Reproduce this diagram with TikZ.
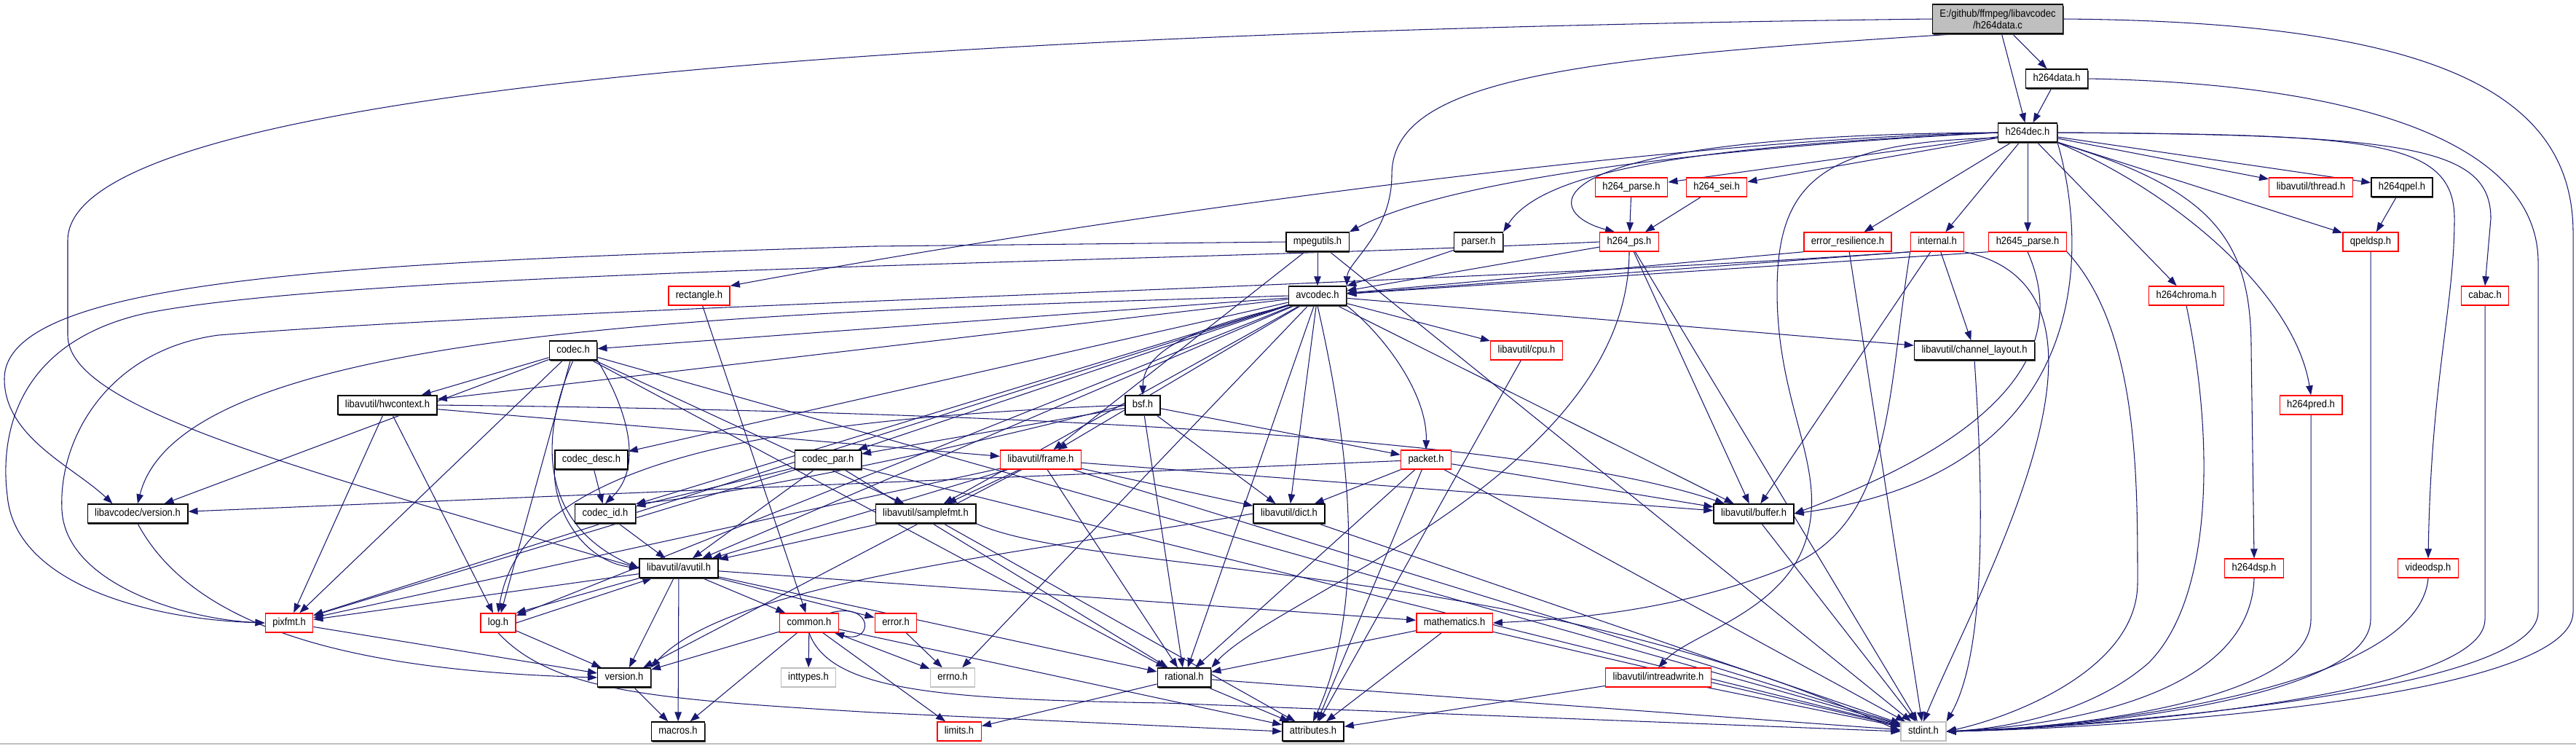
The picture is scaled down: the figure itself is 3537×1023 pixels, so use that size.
\documentclass[tikz,border=0pt]{standalone}
\usepackage{fontspec}
\setmainfont{Liberation Sans}[FakeStretch=0.9]
\usepackage{tikz}
\usetikzlibrary{arrows.meta,backgrounds,shadows,calc}
\definecolor{midnight}{HTML}{191970}
\definecolor{truncred}{HTML}{FF0000}
\definecolor{sysgray}{HTML}{BFBFBF}

\begin{document}
\begin{tikzpicture}[x=0.01cm, y=-0.01cm,
  file/.style={rectangle, fill=white, line width=0.4pt, inner xsep=0.1cm, inner ysep=0pt,
    minimum height=0.26cm, text height=2.9pt, text depth=0.9pt, font=\fontsize{4.1}{4.6}\selectfont},
  done/.style={file, draw=black, general shadow={fill=black!70, shadow xshift=0.35pt, shadow yshift=-0.6pt}},
  cut/.style={file, draw=truncred},
  sysh/.style={file, draw=sysgray},
  dep/.style={draw=midnight, line width=0.3pt, -{Triangle[length=0.13cm, width=0.095cm]}}]
  \useasboundingbox (0,0) rectangle (3537,1023);
  \draw[sysgray, line width=0.6pt] (0,1021) -- (3537,1021);

  \node[done, fill=sysgray, align=center, text height=, text depth=, minimum height=0.4cm] (root) at (2743,26) {E:/github/ffmpeg/libavcodec\\/h264data.c};
  \node[done] (hdata) at (2824,108) {h264data.h};
  \node[done] (hdec) at (2784,182) {h264dec.h};
  \node[cut] (hparse) at (2240,257) {h264\_parse.h};
  \node[cut] (hsei) at (2357,257) {h264\_sei.h};
  \node[cut] (thread) at (3173,257) {libavutil/thread.h};
  \node[done] (hqpel) at (3298,257) {h264qpel.h};
  \node[done] (mpegutils) at (1809,332) {mpegutils.h};
  \node[done] (parser) at (2030,332) {parser.h};
  \node[cut] (hps) at (2237,332) {h264\_ps.h};
  \node[cut] (erres) at (2537,332) {error\_resilience.h};
  \node[cut] (internal) at (2660,332) {internal.h};
  \node[cut] (hparsex) at (2784,332) {h2645\_parse.h};
  \node[cut] (qpeldsp) at (3255,332) {qpeldsp.h};
  \node[cut] (rect) at (960,406) {rectangle.h};
  \node[done] (avcodec) at (1809,406) {avcodec.h};
  \node[cut] (hchroma) at (3002,406) {h264chroma.h};
  \node[cut] (cabac) at (3412,406) {cabac.h};
  \node[done] (codec) at (787,481) {codec.h};
  \node[cut] (cpu) at (2096,481) {libavutil/cpu.h};
  \node[done] (chlayout) at (2711,481) {libavutil/channel\_layout.h};
  \node[done] (hwctx) at (532,556) {libavutil/hwcontext.h};
  \node[done] (bsf) at (1569,556) {bsf.h};
  \node[cut] (hpred) at (3173,556) {h264pred.h};
  \node[done] (codecdesc) at (812,631) {codec\_desc.h};
  \node[done] (codecpar) at (1137,631) {codec\_par.h};
  \node[cut] (frame) at (1429,631) {libavutil/frame.h};
  \node[cut] (packet) at (1958,631) {packet.h};
  \node[done] (lavcver) at (189,705) {libavcodec/version.h};
  \node[done] (codecid) at (831,705) {codec\_id.h};
  \node[done] (samplefmt) at (1271,705) {libavutil/samplefmt.h};
  \node[done] (dict) at (1770,705) {libavutil/dict.h};
  \node[done] (buffer) at (2408,705) {libavutil/buffer.h};
  \node[done] (avutil) at (932,780) {libavutil/avutil.h};
  \node[cut] (hdsp) at (3095,780) {h264dsp.h};
  \node[cut] (videodsp) at (3334,780) {videodsp.h};
  \node[cut] (pixfmt) at (397,855) {pixfmt.h};
  \node[cut] (log) at (684,855) {log.h};
  \node[cut] (common) at (1111,855) {common.h};
  \node[cut] (error) at (1230,855) {error.h};
  \node[cut] (mathematics) at (1997,855) {mathematics.h};
  \node[done] (version) at (857,930) {version.h};
  \node[sysh] (inttypes) at (1110,930) {inttypes.h};
  \node[sysh] (errno) at (1308,930) {errno.h};
  \node[done] (rational) at (1626,930) {rational.h};
  \node[cut] (intrw) at (2277,930) {libavutil/intreadwrite.h};
  \node[done] (macros) at (931,1004) {macros.h};
  \node[cut] (limits) at (1317,1004) {limits.h};
  \node[done] (attributes) at (1803,1004) {attributes.h};
  \node[sysh] (stdint) at (2641,1004) {stdint.h};

  \begin{scope}[on background layer]
  \draw[dep] (root) -- (hdata);
  \draw[dep] (root) -- (hdec);
  \draw[dep] (root.200) .. controls (2150,80) and (1911,110) .. (1911,240) .. controls (1911,320) and (1850,360) .. (avcodec.north east);
  \draw[dep] (root.west) .. controls (1500,40) and (93,100) .. (93,330) -- (93,460) .. controls (93,560) and (400,640) .. (avutil.west);
  \draw[dep] (root.east) .. controls (3350,30) and (3533,130) .. (3533,320) -- (3533,840) .. controls (3533,960) and (2900,1000) .. (stdint.east);
  \draw[dep] (hdata) -- (hdec);
  \draw[dep] (hdata.east) .. controls (3250,115) and (3485,200) .. (3485,360) -- (3485,840) .. controls (3485,950) and (2900,995) .. (stdint.east);

  \draw[dep] (hdec) -- (hparse);
  \draw[dep] (hdec) -- (hsei);
  \draw[dep] (hdec.west) .. controls (2100,185) and (2110,290) .. ($(hps.north)+(-20,0)$);
  \draw[dep] (hdec.west) .. controls (2350,200) and (2120,230) .. (parser.north east);
  \draw[dep] (hdec.west) .. controls (2400,200) and (2000,240) .. (mpegutils.north east);
  \draw[dep] (hdec.west) .. controls (2300,190) and (1500,300) .. (rect.north east);
  \draw[dep] (hdec) -- (erres);
  \draw[dep] (hdec) -- (internal);
  \draw[dep] (hdec) -- (hparsex);
  \draw[dep] (hdec) -- (thread);
  \draw[dep] (hdec) -- (hqpel);
  \draw[dep] (hdec) -- (qpeldsp);
  \draw[dep] (hdec) -- (hchroma);
  \draw[dep] (hdec.south east) .. controls (2980,260) and (3150,400) .. (hpred.north);
  \draw[dep] (hdec.south east) .. controls (3040,260) and (3091,330) .. (3091,480) -- (hdsp.north);
  \draw[dep] (hdec.east) .. controls (3250,185) and (3370,190) .. (3370,300) .. controls (3370,420) and (3338,520) .. (videodsp.north);
  \draw[dep] (hdec.east) .. controls (3300,185) and (3420,200) .. (3420,300) -- (cabac.north);
  \draw[dep] (hdec.south east) .. controls (2870,350) and (2870,650) .. (buffer.east);
  \draw[dep] (hdec.190) .. controls (2500,195) and (2440,250) .. (2440,400) .. controls (2440,560) and (2510,640) .. (2480,740) .. controls (2450,840) and (2320,870) .. (intrw.north);

  \draw[dep] (hparse) -- (hps);
  \draw[dep] (hsei) -- (hps);
  \draw[dep] (hqpel) -- (qpeldsp);
  \draw[dep] (rect) -- (common);
  \draw[dep] (mpegutils) -- (avcodec);
  \draw[dep] (mpegutils) -- (frame);
  \draw[dep] (mpegutils) -- (stdint);
  \draw[dep] (mpegutils.west) -- (1200,338) .. controls (500,360) and (6,380) .. (6,520) .. controls (6,600) and (100,640) .. ($(lavcver.north west)+(35,0)$);
  \draw[dep] (parser) -- (avcodec);
  \draw[dep] (hps) -- (avcodec);
  \draw[dep] (hps) -- (buffer);
  \draw[dep] (hps) -- (stdint);
  \draw[dep] (hps.south) .. controls (2236,650) and (1750,820) .. (rational.north east);
  \draw[dep] (hps.west) .. controls (1600,360) and (500,370) .. (200,430) .. controls (20,470) and (0,600) .. (10,680) .. controls (20,800) and (200,850) .. (pixfmt.west);
  \draw[dep] (erres.south west) -- (avcodec);
  \draw[dep] (erres) -- (stdint);
  \draw[dep] (internal.south west) -- (avcodec);
  \draw[dep] (internal) -- (buffer);
  \draw[dep] (internal) -- (chlayout);
  \draw[dep] (internal.south west) .. controls (2590,550) and (2600,720) .. (2450,780) .. controls (2300,840) and (2150,850) .. (mathematics.east);
  \draw[dep] (internal.south west) .. controls (2000,390) and (800,420) .. (300,460) .. controls (150,480) and (80,600) .. (85,700) .. controls (90,800) and (250,850) .. (pixfmt.west);
  \draw[dep] (internal.south east) .. controls (2950,400) and (2720,800) .. (stdint.north);
  \draw[dep] (hparsex.south west) -- (avcodec);
  \draw[dep] (hparsex.south) .. controls (2830,450) and (2800,580) .. (buffer.east);
  \draw[dep] (hparsex.south east) .. controls (2935,450) and (2935,650) .. (2935,800) .. controls (2935,920) and (2760,985) .. (stdint.east);
  \draw[dep] (qpeldsp.south) -- (3255,850) .. controls (3255,960) and (2850,1000) .. (stdint.east);
  \draw[dep] (hchroma.south) .. controls (3040,600) and (3040,820) .. (2950,910) .. controls (2870,980) and (2750,1000) .. (stdint.east);
  \draw[dep] (cabac.south) -- (3412,850) .. controls (3412,960) and (2850,1000) .. (stdint.east);
  \draw[dep] (hpred.south) -- (3173,850) .. controls (3173,960) and (2850,1000) .. (stdint.east);
  \draw[dep] (hdsp.south) .. controls (3090,950) and (2850,995) .. (stdint.east);
  \draw[dep] (videodsp.south) .. controls (3320,950) and (2850,1000) .. (stdint.east);
  \draw[dep] (chlayout.south) .. controls (2725,700) and (2725,900) .. (stdint.north east);

  \draw[dep] (avcodec) -- (errno);
  \draw[dep] (avcodec) -- (samplefmt);
  \draw[dep] (avcodec.south) .. controls (1850,600) and (1880,820) .. (attributes.north);
  \draw[dep] (avcodec) -- (avutil);
  \draw[dep] (avcodec) -- (buffer);
  \draw[dep] (avcodec) -- (cpu);
  \draw[dep] (avcodec) -- (chlayout);
  \draw[dep] (avcodec) -- (dict);
  \draw[dep] (avcodec) -- (frame);
  \draw[dep] (avcodec) -- (hwctx);
  \draw[dep] (avcodec) -- (log);
  \draw[dep] (avcodec) -- (pixfmt);
  \draw[dep] (avcodec) -- (rational);
  \draw[dep] (avcodec.south west) .. controls (1640,450) and (1570,480) .. (bsf.north);
  \draw[dep] (avcodec) -- (codec);
  \draw[dep] (avcodec) -- (codecdesc);
  \draw[dep] (avcodec) -- (codecpar);
  \draw[dep] (avcodec) -- (codecid);
  \draw[dep] (avcodec.south east) .. controls (1900,460) and (1960,540) .. (packet.north);
  \draw[dep] (avcodec.west) .. controls (1000,430) and (250,450) .. (lavcver.north);

  \draw[dep] (codec) -- (stdint);
  \draw[dep] (codec.south) .. controls (740,600) and (740,720) .. (avutil.west);
  \draw[dep] (codec) -- (hwctx);
  \draw[dep] (codec) -- (log);
  \draw[dep] (codec) -- (pixfmt);
  \draw[dep] (codec) -- (rational);
  \draw[dep] (codec) -- (samplefmt);
  \draw[dep] (codec.south east) .. controls (860,560) and (885,640) .. (codecid.north);
  \draw[dep] (codec) -- (lavcver);
  \draw[dep] (cpu) -- (attributes);
  \draw[dep] (hwctx.east) .. controls (1400,565) and (2100,600) .. (buffer);
  \draw[dep] (hwctx) -- (frame);
  \draw[dep] (hwctx) -- (log);
  \draw[dep] (hwctx) -- (pixfmt);
  \draw[dep] (bsf) -- (dict);
  \draw[dep] (bsf.west) .. controls (1100,575) and (720,620) .. (log.north);
  \draw[dep] (bsf) -- (rational);
  \draw[dep] (bsf.west) .. controls (1300,620) and (1000,680) .. (codecid.north east);
  \draw[dep] (bsf) -- (codecpar);
  \draw[dep] (bsf) -- (packet);
  \draw[dep] (codecdesc.south west) .. controls (760,700) and (800,770) .. (avutil.west);
  \draw[dep] (codecdesc) -- (codecid);
  \draw[dep] (codecpar) -- (stdint);
  \draw[dep] (codecpar) -- (avutil);
  \draw[dep] (codecpar) -- (rational);
  \draw[dep] (codecpar) -- (pixfmt);
  \draw[dep] (codecpar) -- (codecid);
  \draw[dep] (frame) -- (stdint);
  \draw[dep] (frame) -- (avutil);
  \draw[dep] (frame) -- (buffer);
  \draw[dep] (frame) -- (dict);
  \draw[dep] (frame) -- (rational);
  \draw[dep] (frame) -- (samplefmt);
  \draw[dep] (frame) -- (pixfmt);
  \draw[dep] (frame) -- (version);
  \draw[dep] (packet) -- (stdint);
  \draw[dep] (packet) -- (attributes);
  \draw[dep] (packet) -- (buffer);
  \draw[dep] (packet) -- (dict);
  \draw[dep] (packet) -- (rational);
  \draw[dep] (packet) -- (lavcver);
  \draw[dep] (lavcver.south) .. controls (260,850) and (450,920) .. (version.west);
  \draw[dep] (codecid) -- (avutil);
  \draw[dep] (samplefmt.south east) .. controls (1500,790) and (2100,770) .. (stdint.west);
  \draw[dep] (samplefmt) -- (avutil);
  \draw[dep] (samplefmt) -- (attributes);
  \draw[dep] (dict) -- (stdint);
  \draw[dep] (dict.west) .. controls (1400,760) and (1000,800) .. (version.north east);
  \draw[dep] (buffer) -- (stdint);

  \draw[dep] (avutil) -- (common);
  \draw[dep] (avutil) -- (error);
  \draw[dep] (avutil) -- (rational);
  \draw[dep] (avutil) -- (version);
  \draw[dep] (avutil) -- (macros);
  \draw[dep] (avutil) -- (mathematics);
  \draw[dep] (avutil.south west) -- (log.north east);
  \draw[dep] (avutil) -- (pixfmt);
  \draw[dep] (pixfmt) -- (version);
  \draw[dep] (log.east) -- ($(avutil.south west)+(18,0)$);
  \draw[dep] (log.south) .. controls (760,950) and (900,960) .. (1200,978) -- (attributes.west);
  \draw[dep] (log) -- (version);
  \draw[dep] (common) -- (errno);
  \draw[dep] (common) -- (inttypes);
  \draw[dep] (common) -- (limits);
  \draw[dep] (common.south) .. controls (1140,950) and (1300,960) .. (1600,965) -- (stdint.west);
  \draw[dep] (common) -- (attributes);
  \draw[dep] (common) -- (macros);
  \draw[dep] (common) -- (version);
  \draw[dep] ($(common.north east)+(-12,0)$) .. controls (1200,825) and (1200,885) .. ($(common.south east)+(-6,0)$);
  \draw[dep] (error) -- (errno);
  \draw[dep] (mathematics) -- (stdint);
  \draw[dep] (mathematics) -- (attributes);
  \draw[dep] (mathematics) -- (rational);
  \draw[dep] (version) -- (macros);
  \draw[dep] (rational) -- (stdint);
  \draw[dep] (rational) -- (limits);
  \draw[dep] (rational) -- (attributes);
  \draw[dep] (intrw) -- (stdint);
  \draw[dep] (intrw) -- (attributes);
  \end{scope}
\end{tikzpicture}
\end{document}
